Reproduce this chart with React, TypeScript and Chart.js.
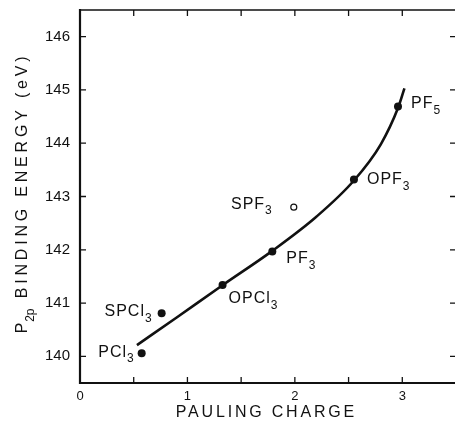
import React, { useEffect, useRef } from 'react';
import { Chart, registerables } from 'chart.js';

Chart.register(...registerables);

// ---- data ----
const compoundBase = ['PCl', 'SPCl', 'OPCl', 'PF', 'OPF', 'PF'];
const compoundSub = ['3', '3', '3', '3', '3', '5'];
const paulingCharge = [0.574, 0.76, 1.327, 1.79, 2.55, 2.96];
const bindingEnergy = [140.06, 140.81, 141.34, 141.97, 143.32, 144.69];

const openBase = ['SPF'];
const openSub = ['3'];
const openCharge = [1.99];
const openEnergy = [142.8];

const curveCharge = [0.53, 0.9, 1.33, 1.79, 2.2, 2.55, 2.8, 2.96, 3.02];
const curveEnergy = [140.21, 140.73, 141.34, 141.98, 142.62, 143.3, 143.98, 144.66, 145.03];

const xMin = 0;
const xMax = 3.5;
const yMin = 139.5;
const yMax = 146.5;
const xTickValues = [0, 0.5, 1, 1.5, 2, 2.5, 3, 3.5];
const xTickLabels = ['0', '', '1', '', '2', '', '3', ''];
const yTickValues = [140, 141, 142, 143, 144, 145, 146];
const yTickLabels = ['140', '141', '142', '143', '144', '145', '146'];

const xTitle = 'PAULING CHARGE';
const yTitleMain = 'P';
const yTitleSub = '2p';
const yTitleRest = ' BINDING ENERGY (eV)';

// ---- label placement (pixel offsets from the point, style only) ----
const labelOffsets: [number, number, string][] = [
  [-7, -1, 'right'],
  [-9, -2, 'right'],
  [6, 13.5, 'left'],
  [14, 7, 'left'],
  [13, 0, 'left'],
  [13, -3, 'left'],
];
const openLabelOffsets: [number, number, string][] = [[-21, -3, 'right']];

const FONT = '"Liberation Sans", Arial, sans-serif';
const INK = '#111';

function drawSubLabel(
  ctx: CanvasRenderingContext2D,
  base: string,
  sub: string,
  x: number,
  y: number,
  align: string
) {
  ctx.save();
  ctx.fillStyle = INK;
  ctx.textBaseline = 'middle';
  ctx.textAlign = 'left';
  ctx.font = `16px ${FONT}`;
  (ctx as any).letterSpacing = '1px';
  const wMain = ctx.measureText(base).width;
  ctx.font = `12px ${FONT}`;
  const wSub = ctx.measureText(sub).width;
  const total = wMain + wSub;
  const startX = align === 'right' ? x - total : x;
  ctx.font = `16px ${FONT}`;
  ctx.fillText(base, startX, y);
  ctx.font = `12px ${FONT}`;
  ctx.fillText(sub, startX + wMain, y + 7);
  ctx.restore();
}

const decorPlugin = {
  id: 'decor',
  afterDraw(chart: any) {
    const ctx: CanvasRenderingContext2D = chart.ctx;
    const { left, right, top, bottom } = chart.chartArea;
    const xs = chart.scales.x;
    const ys = chart.scales.y;
    ctx.save();
    ctx.strokeStyle = INK;
    ctx.lineCap = 'butt';
    // frame
    ctx.lineWidth = 2.2;
    ctx.beginPath();
    ctx.moveTo(left, top - 1);
    ctx.lineTo(left, bottom);
    ctx.lineTo(right, bottom);
    ctx.stroke();
    ctx.lineWidth = 1.6;
    ctx.beginPath();
    ctx.moveTo(left, top);
    ctx.lineTo(right, top);
    ctx.lineTo(right, bottom);
    ctx.stroke();
    // ticks (inside)
    ctx.lineWidth = 1.3;
    ctx.beginPath();
    for (const v of xTickValues) {
      if (v <= xMin || v >= xMax) continue;
      const px = xs.getPixelForValue(v);
      ctx.moveTo(px, bottom);
      ctx.lineTo(px, bottom - 6);
      ctx.moveTo(px, top);
      ctx.lineTo(px, top + 6);
    }
    for (const v of yTickValues) {
      const py = ys.getPixelForValue(v);
      ctx.moveTo(left, py);
      ctx.lineTo(left + 6, py);
      ctx.moveTo(right, py);
      ctx.lineTo(right - 6, py);
    }
    ctx.stroke();

    // point labels
    for (let i = 0; i < compoundBase.length; i++) {
      const px = xs.getPixelForValue(paulingCharge[i]);
      const py = ys.getPixelForValue(bindingEnergy[i]);
      const [dx, dy, al] = labelOffsets[i];
      drawSubLabel(ctx, compoundBase[i], compoundSub[i], px + dx, py + dy, al);
    }
    for (let i = 0; i < openBase.length; i++) {
      const px = xs.getPixelForValue(openCharge[i]);
      const py = ys.getPixelForValue(openEnergy[i]);
      const [dx, dy, al] = openLabelOffsets[i];
      drawSubLabel(ctx, openBase[i], openSub[i], px + dx, py + dy, al);
    }

    // x title
    ctx.fillStyle = INK;
    ctx.font = `16px ${FONT}`;
    (ctx as any).letterSpacing = '2.8px';
    ctx.textBaseline = 'middle';
    ctx.textAlign = 'left';
    const wx = ctx.measureText(xTitle).width;
    const cx = (left + xs.getPixelForValue(3.5)) / 2 - 3;
    ctx.fillText(xTitle, cx - wx / 2 + 1.4, 413);

    // y title (rotated)
    ctx.save();
    ctx.translate(26, 191.5);
    ctx.rotate(-Math.PI / 2);
    const LS = '3.8px';
    ctx.font = `16px ${FONT}`;
    (ctx as any).letterSpacing = LS;
    const w1 = ctx.measureText(yTitleMain).width;
    const w3 = ctx.measureText(yTitleRest).width;
    ctx.font = `12px ${FONT}`;
    (ctx as any).letterSpacing = '0px';
    const w2 = ctx.measureText(yTitleSub).width + 2;
    const total = w1 + w2 + w3;
    let sx = -total / 2;
    ctx.font = `16px ${FONT}`;
    (ctx as any).letterSpacing = LS;
    ctx.fillText(yTitleMain, sx, -3);
    sx += w1 - 3;
    ctx.font = `12px ${FONT}`;
    (ctx as any).letterSpacing = '0px';
    ctx.fillText(yTitleSub, sx, 5);
    sx += w2;
    ctx.font = `16px ${FONT}`;
    (ctx as any).letterSpacing = LS;
    ctx.fillText(yTitleRest, sx, -3);
    ctx.restore();

    ctx.restore();
  },
};

export default function App() {
  const ref = useRef<HTMLCanvasElement | null>(null);
  useEffect(() => {
    if (!ref.current) return;
    const chart = new Chart(ref.current, {
      type: 'scatter',
      data: {
        datasets: [
          {
            label: 'curve',
            data: curveCharge.map((x, i) => ({ x, y: curveEnergy[i] })),
            showLine: true,
            borderColor: INK,
            borderWidth: 2.6,
            pointRadius: 0,
            cubicInterpolationMode: 'monotone',
            fill: false,
          },
          {
            label: 'measured',
            data: paulingCharge.map((x, i) => ({ x, y: bindingEnergy[i] })),
            backgroundColor: INK,
            borderColor: INK,
            pointRadius: 4,
            borderWidth: 0,
          },
          {
            label: 'open',
            data: openCharge.map((x, i) => ({ x, y: openEnergy[i] })),
            backgroundColor: '#fff',
            borderColor: INK,
            pointRadius: 3,
            borderWidth: 1.2,
          },
        ],
      },
      options: {
        responsive: false,
        animation: false,
        layout: { padding: { top: 10, right: 9, left: 0, bottom: 0 } },
        plugins: {
          legend: { display: false },
          tooltip: { enabled: false },
          title: { display: false },
        },
        scales: {
          x: {
            type: 'linear',
            min: xMin,
            max: xMax,
            border: { display: false },
            grid: { display: false, drawTicks: false },
            afterBuildTicks: (s: any) => {
              s.ticks = xTickValues.map((v) => ({ value: v }));
            },
            ticks: {
              color: INK,
              padding: 6,
              maxRotation: 0,
              autoSkip: false,
              font: { family: FONT, size: 13 },
              callback: (v: any, i: number) => xTickLabels[i] ?? '',
            },
            afterFit: (s: any) => {
              s.height = 45;
              s.paddingLeft = 0;
              s.paddingRight = 0;
              s.paddingTop = 0;
              s.paddingBottom = 0;
            },
          },
          y: {
            type: 'linear',
            min: yMin,
            max: yMax,
            border: { display: false },
            grid: { display: false, drawTicks: false },
            afterBuildTicks: (s: any) => {
              s.ticks = yTickValues.map((v) => ({ value: v }));
            },
            ticks: {
              color: INK,
              padding: 10,
              autoSkip: false,
              font: { family: FONT, size: 15 },
              callback: (v: any, i: number) => yTickLabels[i] ?? '',
            },
            afterFit: (s: any) => {
              s.width = 80;
              s.paddingLeft = 0;
              s.paddingRight = 0;
              s.paddingTop = 0;
              s.paddingBottom = 0;
            },
          },
        },
      },
      plugins: [decorPlugin],
    } as any);
    return () => chart.destroy();
  }, []);
  return (
    <div
      style={{
        position: 'fixed',
        left: 0,
        top: 0,
        width: 455,
        height: 428,
        overflow: 'hidden',
        background: '#fff',
      }}
    >
      <canvas ref={ref} width={465} height={428} style={{ display: 'block' }} />
    </div>
  );
}
